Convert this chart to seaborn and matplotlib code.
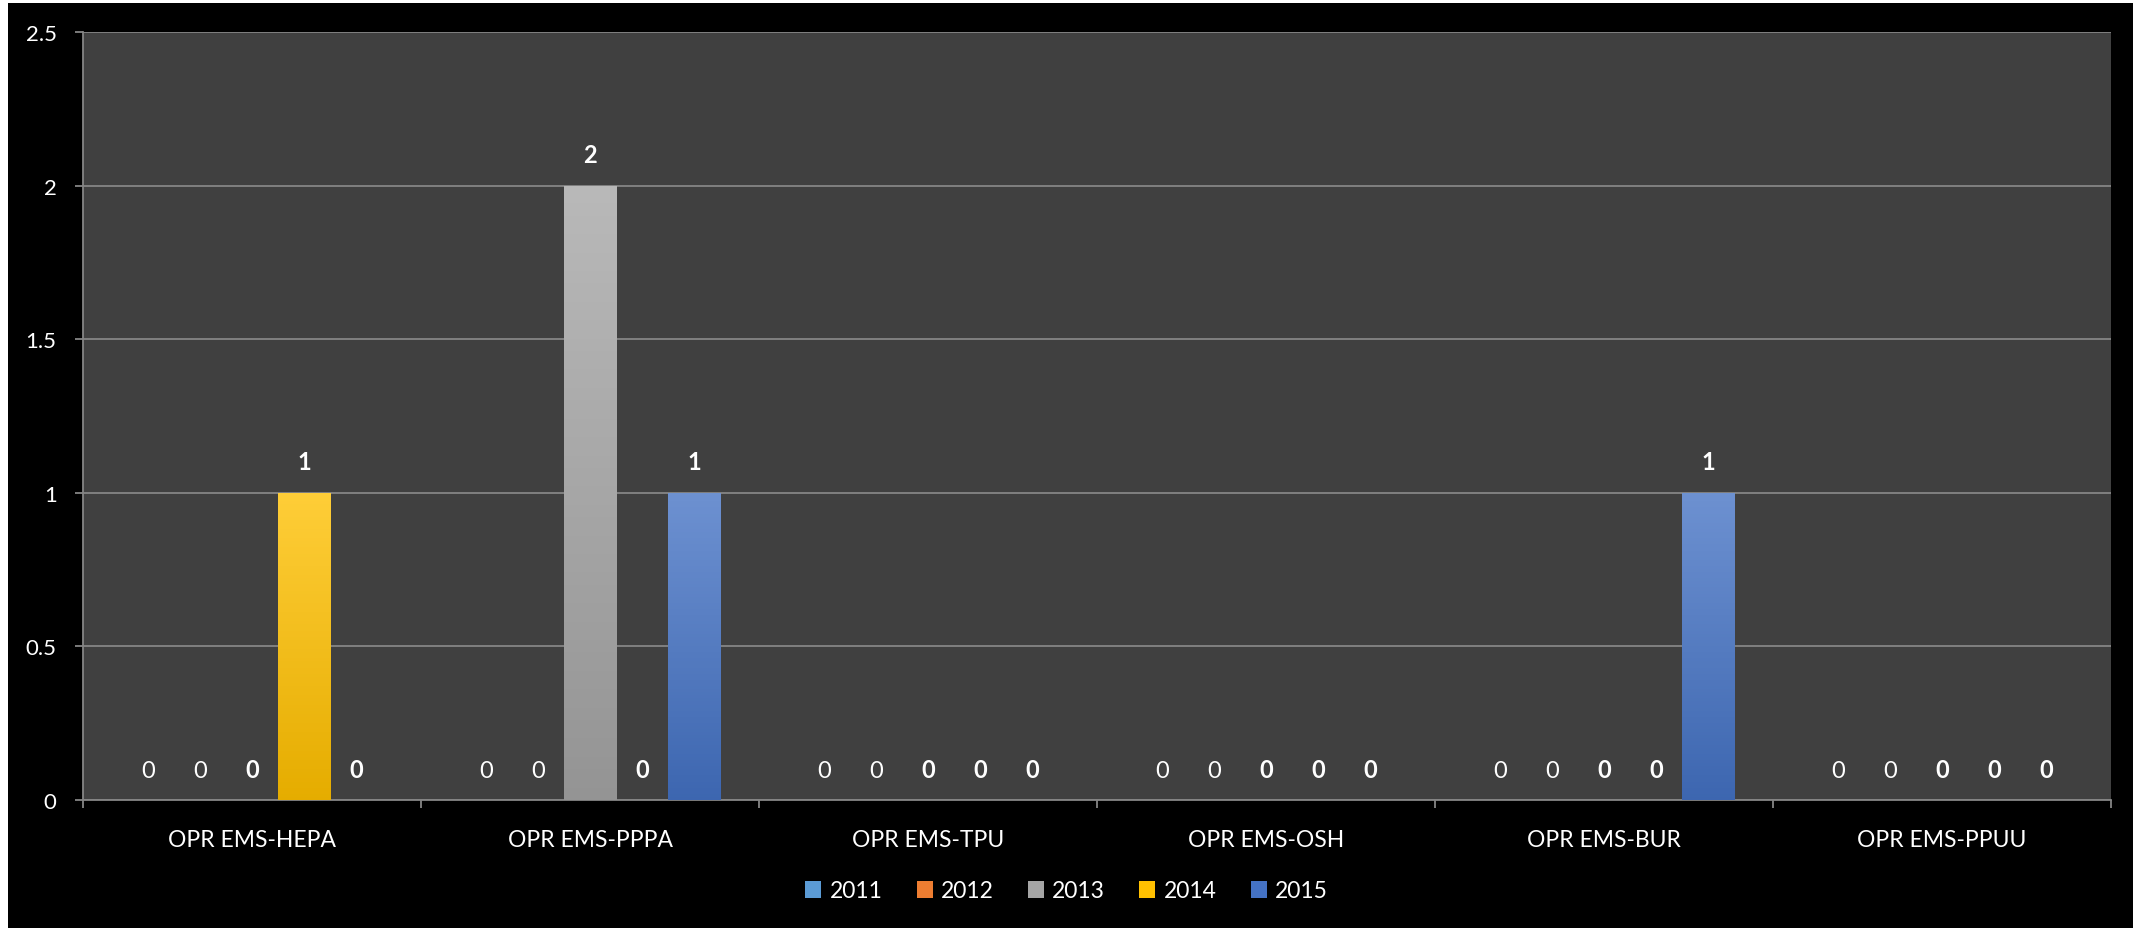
import numpy as np
import pandas as pd
import matplotlib.pyplot as plt
import matplotlib.colors as mcolors
import seaborn as sns

# data
categories = ['OPR EMS-HEPA', 'OPR EMS-PPPA', 'OPR EMS-TPU', 'OPR EMS-OSH', 'OPR EMS-BUR', 'OPR EMS-PPUU']
years = ['2011', '2012', '2013', '2014', '2015']
v2011 = [0, 0, 0, 0, 0, 0]
v2012 = [0, 0, 0, 0, 0, 0]
v2013 = [0, 2, 0, 0, 0, 0]
v2014 = [1, 0, 0, 0, 0, 0]
v2015 = [0, 1, 0, 0, 1, 0]
year_colors = ['#5B9BD5', '#ED7D31', '#A5A5A5', '#FFC000', '#4472C4']
bold_years = ['2013', '2014', '2015']

rows = []
for yr, vals in zip(years, [v2011, v2012, v2013, v2014, v2015]):
    for cat, v in zip(categories, vals):
        rows.append({'category': cat, 'year': yr, 'value': v})
df = pd.DataFrame(rows)

sns.set_style('dark')
plt.rcParams['font.family'] = ['Lato', 'DejaVu Sans']

W, H = 2133, 929
fig = plt.figure(figsize=(W / 100, H / 100), dpi=100)
fig.patch.set_facecolor('white')
fig.patches.append(plt.Rectangle((8 / W, 0), 1, 1 - 4 / H, transform=fig.transFigure,
                                 facecolor='black', edgecolor='none', zorder=-10))

ax = fig.add_axes([83 / W, (H - 801) / H, (2111 - 83) / W, (801 - 33) / H])
ax.set_facecolor('#404040')

sns.barplot(data=df, x='category', y='value', hue='year', order=categories, hue_order=years,
            palette=year_colors, width=0.77, gap=0, saturation=1, edgecolor='none',
            legend=False, ax=ax, zorder=3)

ax.set_ylim(0, 2.5)
ax.set_xlim(-0.5, len(categories) - 0.5)
ax.set_yticks([0, 0.5, 1, 1.5, 2, 2.5])
ax.set_yticklabels(['0', '0.5', '1', '1.5', '2', '2.5'])
ax.grid(axis='y', color='#858585', linewidth=1.3, zorder=1)
ax.grid(axis='x', visible=False)
ax.set_axisbelow(True)
ax.set_xlabel('')
ax.set_ylabel('')

for s in ['top', 'right']:
    ax.spines[s].set_visible(False)
for s in ['left', 'bottom']:
    ax.spines[s].set_visible(True)
    ax.spines[s].set_color('#858585')
    ax.spines[s].set_linewidth(1.3)

ax.tick_params(axis='y', colors='#858585', labelcolor='white', labelsize=16,
               length=6, width=1.3, pad=13, left=True)
ax.tick_params(axis='x', which='major', length=0, labelcolor='white', labelsize=16.5, pad=21)
ax.set_xticks(np.arange(-0.5, len(categories)), minor=True)
ax.tick_params(axis='x', which='minor', colors='#858585', length=6, width=1.3, bottom=True)

# gradient fill like the office chart style
for container, yr, col in zip(ax.containers, years, year_colors):
    base = np.array(mcolors.to_rgb(col))
    top = base + (1 - base) * 0.22
    bot = base * 0.9
    grad = np.linspace(0, 1, 100)[:, None, None]
    img = top * (1 - grad) + bot * grad
    for bar in container:
        h = bar.get_height()
        if h <= 0:
            continue
        x0 = bar.get_x()
        im = ax.imshow(img, extent=[x0, x0 + bar.get_width(), 0, h], aspect='auto',
                       origin='upper', zorder=4)
        im.set_clip_path(bar)
    weight = 'bold' if yr in bold_years else 'normal'
    ax.bar_label(container, labels=[f'{v:g}' for v in container.datavalues], padding=14,
                 color='white', fontsize=17, fontweight=weight, zorder=5)

ax.set_xlim(-0.5, len(categories) - 0.5)
ax.set_ylim(0, 2.5)

handles = [plt.Rectangle((0, 0), 1, 1, facecolor=c, edgecolor='none') for c in year_colors]
leg = fig.legend(handles, years, loc='center', bbox_to_anchor=(0.5, 1 - 892 / H), ncol=5,
                 frameon=False, fontsize=16.5, handlelength=0.7, handleheight=0.7,
                 handletextpad=0.35, columnspacing=1.5)
for t in leg.get_texts():
    t.set_color('white')

fig.savefig('out.png', dpi=100, facecolor=fig.get_facecolor())
